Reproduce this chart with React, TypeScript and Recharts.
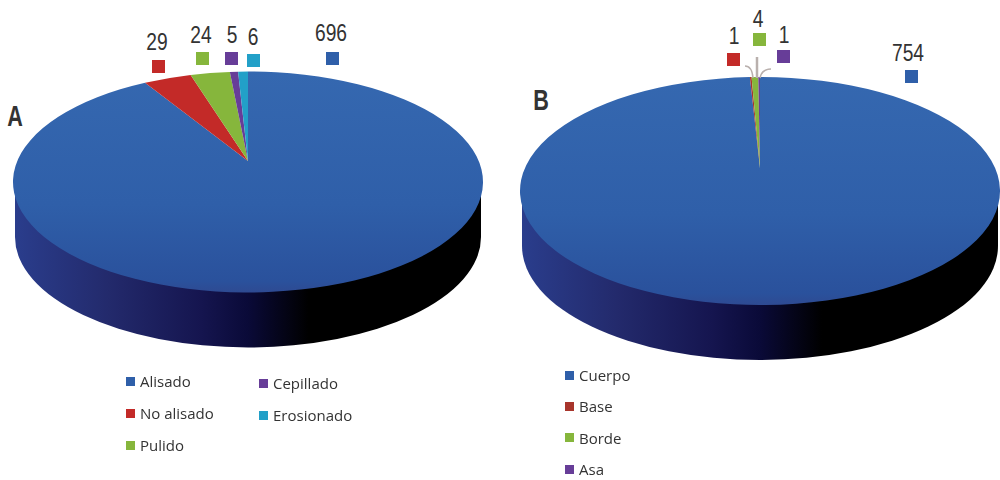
import { Pie, PieChart } from "recharts"

const labelsA = ["Alisado", "No alisado", "Pulido", "Cepillado", "Erosionado"]
const valuesA = [696, 29, 24, 5, 6]
const colorsA = ["#2f5fa9", "#c32a28", "#86b63c", "#673d98", "#22a0c8"]

const labelsB = ["Cuerpo", "Base", "Borde", "Asa"]
const valuesB = [754, 1, 4, 1]
const colorsB = ["#2f5fa9", "#a8352c", "#86b63c", "#673d98"]

const dataA = labelsA.map((name, i) => ({ name, value: valuesA[i], fill: i === 0 ? "url(#topBlue)" : colorsA[i] }))
const dataB = labelsB.map((name, i) => ({ name, value: valuesB[i], fill: i === 0 ? "url(#topBlue)" : colorsB[i] }))

const RAD = Math.PI / 180
const SQUASH_A = 0.47
const SQUASH_B = 0.475

// the back of a tilted pie looks compressed, so pull the rim angle towards the top
function rimPoint(cx: number, cy: number, r: number, squash: number, angle: number) {
  const fromTop = (90 - angle) * RAD
  const t = fromTop - 0.15 * Math.sin(fromTop)
  return [cx + r * Math.sin(t), cy - r * squash * Math.cos(t)]
}

// recharts only draws round pies, so the sectors get flattened here.
// the apex sits above the ellipse centre, like the perspective in the original
function topSector(squash: number, lift: number) {
  return (props: any) => {
    const { cx, cy, outerRadius: r, startAngle, endAngle, fill } = props
    const [x1, y1] = rimPoint(cx, cy, r, squash, startAngle)
    const [x2, y2] = rimPoint(cx, cy, r, squash, endAngle)
    const large = Math.abs(endAngle - startAngle) > 180 ? 1 : 0
    const sweep = endAngle < startAngle ? 1 : 0
    return (
      <path
        d={`M${cx},${cy - lift} L${x1},${y1} A${r},${r * squash} 0 ${large} ${sweep} ${x2},${y2} Z`}
        fill={fill}
      />
    )
  }
}

// side wall, only the front half of the ellipse shows
function wall(squash: number, depth: number, gradient: string) {
  return (props: any) => {
    const { cx, cy, outerRadius: r } = props
    const ry = r * squash
    return (
      <path
        d={`M${cx - r + 2},${cy} L${cx - r + 2},${cy + depth} A${r - 2},${ry} 0 0 0 ${cx + r - 2},${cy + depth} L${cx + r - 2},${cy} Z`}
        fill={`url(#${gradient})`}
      />
    )
  }
}

const wallData = [{ name: "wall", value: 1 }]

function Legend({ items, colors, x, y, gap }: any) {
  return (
    <>
      {items.map((t: string, i: number) => (
        <div
          key={t}
          style={{ position: "absolute", left: x, top: y + i * gap, display: "flex", alignItems: "center", fontSize: 15, color: "#333", height: 14, lineHeight: "14px", filter: "blur(0.4px)" }}
        >
          <span style={{ width: 9, height: 9, background: colors[i], marginRight: 5 }} />
          {t}
        </div>
      ))}
    </>
  )
}

const numStyle = { position: "absolute", fontFamily: "'Liberation Sans Narrow', 'Liberation Sans'", fontSize: 24, color: "#333", transform: "translateX(-50%) scaleX(0.8)", lineHeight: "24px" } as const

function Num({ x, y, children }: any) {
  return <div style={{ ...numStyle, left: x, top: y }}>{children}</div>
}

function Mark({ x, y, color }: any) {
  return <div style={{ position: "absolute", left: x, top: y, width: 13, height: 13, background: color }} />
}

export default function App() {
  return (
    <div style={{ position: "absolute", left: 0, top: 0, width: 1000, height: 480, overflow: "hidden", background: "#fff", fontFamily: "'Open Sans', sans-serif" }}>
      <PieChart width={1000} height={480} margin={{ top: 0, right: 0, bottom: 0, left: 0 }}>
        <defs>
          <linearGradient id="topBlue" x1="0" y1="0" x2="0" y2="1">
            <stop offset="0" stopColor="#3568b0" />
            <stop offset="0.6" stopColor="#2f5fa9" />
            <stop offset="0.95" stopColor="#2a519c" />
            <stop offset="1" stopColor="#2e4a92" />
          </linearGradient>
          <linearGradient id="wallA" x1="0" y1="0" x2="1" y2="0">
            <stop offset="0" stopColor="#2a3d8c" />
            <stop offset="0.2" stopColor="#232a6c" />
            <stop offset="0.4" stopColor="#15154f" />
            <stop offset="0.5" stopColor="#0a0a38" />
            <stop offset="0.63" stopColor="#000" />
            <stop offset="1" stopColor="#000" />
          </linearGradient>
        </defs>
        <Pie data={wallData} dataKey="value" cx={248} cy={182} outerRadius={235} stroke="none" shape={wall(SQUASH_A, 55, "wallA")} isAnimationActive={false} />
        <Pie data={dataA} dataKey="value" cx={248} cy={182} outerRadius={235} startAngle={90} endAngle={-270} stroke="none" shape={topSector(SQUASH_A, 21)} isAnimationActive={false} />
        <Pie data={wallData} dataKey="value" cx={760} cy={191} outerRadius={240} stroke="none" shape={wall(SQUASH_B, 55, "wallA")} isAnimationActive={false} />
        <Pie data={dataB} dataKey="value" cx={760} cy={191} outerRadius={240} startAngle={90} endAngle={-270} stroke="none" shape={topSector(SQUASH_B, 23)} isAnimationActive={false} />
      </PieChart>

      {/* leader lines of the B labels */}
      <svg width={1000} height={480} style={{ position: "absolute", left: 0, top: 0 }}>
        <g fill="none" stroke="#b9b0ad" strokeWidth={1.5}>
          <path d="M757,57 L757,78" strokeWidth={2.5} />
          <path d="M745,66 Q752,66 753,78" />
          <path d="M771,69 Q762,69 760,78" />
        </g>
      </svg>

      <div style={{ ...numStyle, left: 15, top: 101, fontWeight: 700, fontSize: 30, lineHeight: "30px", transform: "translateX(-50%) scaleX(0.72)" }}>A</div>
      <div style={{ ...numStyle, left: 541, top: 85, fontWeight: 700, fontSize: 30, lineHeight: "30px", transform: "translateX(-50%) scaleX(0.72)" }}>B</div>

      <Num x={157} y={30}>{valuesA[1]}</Num>
      <Num x={201} y={23}>{valuesA[2]}</Num>
      <Num x={232} y={23}>{valuesA[3]}</Num>
      <Num x={253} y={25}>{valuesA[4]}</Num>
      <Num x={331} y={21}>{valuesA[0]}</Num>
      <Mark x={152} y={60} color={colorsA[1]} />
      <Mark x={196} y={52} color={colorsA[2]} />
      <Mark x={225} y={52} color={colorsA[3]} />
      <Mark x={247} y={54} color={colorsA[4]} />
      <Mark x={326} y={52} color={colorsA[0]} />

      <Num x={734} y={24}>{valuesB[1]}</Num>
      <Num x={758} y={7}>{valuesB[2]}</Num>
      <Num x={784} y={23}>{valuesB[3]}</Num>
      <Num x={908} y={41}>{valuesB[0]}</Num>
      <Mark x={727} y={53} color={"#c32a28"} />
      <Mark x={753} y={33} color={colorsB[2]} />
      <Mark x={777} y={50} color={colorsB[3]} />
      <Mark x={905} y={70} color={colorsB[0]} />

      <Legend items={labelsA.slice(0, 3)} colors={colorsA.slice(0, 3)} x={126} y={374} gap={32} />
      <Legend items={labelsA.slice(3)} colors={colorsA.slice(3)} x={259} y={376} gap={32} />
      <Legend items={labelsB} colors={colorsB} x={565} y={368} gap={31.4} />
    </div>
  )
}
